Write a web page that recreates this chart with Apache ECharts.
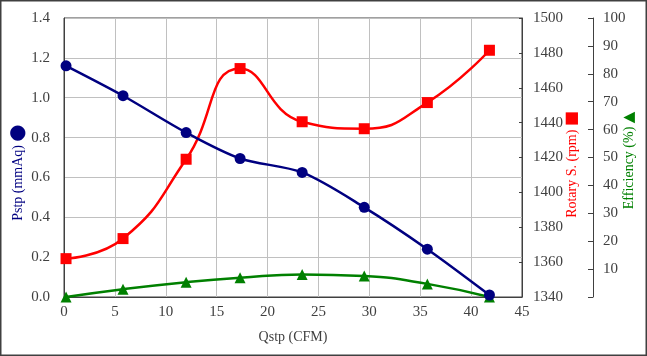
<!DOCTYPE html>
<html>
<head>
<meta charset="utf-8">
<script src="https://cdn.jsdelivr.net/npm/echarts@6/dist/echarts.min.js"></script>
<style>html,body{margin:0;padding:0;background:#fff}#c{width:647px;height:356px}</style>
</head>
<body>
<div id="c"></div>
<script>
const qstp = [0.2, 5.8, 12.0, 17.3, 23.4, 29.5, 35.7, 41.8];
const pstp = [1.16, 1.01, 0.825, 0.695, 0.625, 0.45, 0.24, 0.01];
const rpm = [1362, 1373.5, 1419, 1471, 1440.5, 1436.5, 1451.5, 1481.5];
const eff = [0, 2.8, 5.3, 6.9, 8.1, 7.5, 4.7, 0];
const xTicks = [0, 5, 10, 15, 20, 25, 30, 35, 40, 45];

const zip = (xs, ys) => xs.map((x, i) => [x, ys[i]]);
const font = '"Liberation Serif", "DejaVu Serif", serif';
const labelStyle = { color: '#404040', fontFamily: font, fontSize: 15 };

const chart = echarts.init(document.getElementById('c'));
chart.setOption({
  animation: false,
  grid: { left: 64, right: 125, top: 18, bottom: 59, containLabel: false, outerBoundsMode: 'none',
          show: true, borderColor: '#404040', borderWidth: 1 },
  graphic: [{
    type: 'rect', shape: { x: 0.75, y: 0.75, width: 645.5, height: 354.5 },
    style: { fill: 'none', stroke: '#404040', lineWidth: 1.5 }, silent: true
  }],
  xAxis: {
    type: 'value', min: 0, max: 45, interval: 5,
    name: 'Qstp (CFM)', nameLocation: 'middle', nameGap: 33, nameMoveOverlap: false,
    nameTextStyle: { color: '#404040', fontFamily: font, fontSize: 14 },
    axisLine: { lineStyle: { color: '#404040', width: 1 } },
    axisTick: { show: false },
    axisLabel: Object.assign({ margin: 8, formatter: v => xTicks.includes(v) ? String(v) : '' }, labelStyle),
    splitLine: { show: true, lineStyle: { color: '#c0c0c0', width: 1 } }
  },
  yAxis: [{
    type: 'value', min: 0, max: 1.4, interval: 0.2, position: 'left',
    name: '{t|Pstp (mmAq)} {s|●}', nameLocation: 'middle', nameGap: 36, nameRotate: 90, nameMoveOverlap: false,
    nameTextStyle: { padding: [0, 30, 0, 0], rich: {
      t: { color: '#000080', fontFamily: font, fontSize: 14 },
      s: { color: '#000080', fontSize: 20, fontFamily: 'DejaVu Sans' } } },
    axisLine: { show: true, lineStyle: { color: '#404040', width: 1 } },
    axisTick: { show: false },
    axisLabel: Object.assign({ margin: 14, formatter: v => v.toFixed(1) }, labelStyle),
    splitLine: { show: true, lineStyle: { color: '#c0c0c0', width: 1 } }
  }, {
    type: 'value', min: 1340, max: 1500, interval: 20, position: 'right',
    name: '{t|Rotary S. (rpm)} {s|■}', nameLocation: 'middle', nameGap: 42, nameRotate: 90, nameMoveOverlap: false,
    nameTextStyle: { padding: [0, 14, 0, 0], rich: {
      t: { color: '#ff0000', fontFamily: font, fontSize: 14 },
      s: { color: '#ff0000', fontSize: 16, fontFamily: 'DejaVu Sans' } } },
    axisLine: { show: true, lineStyle: { color: '#404040', width: 1 } },
    axisTick: { show: true, inside: true, length: 3, lineStyle: { color: '#404040' } },
    axisLabel: Object.assign({ margin: 11, formatter: v => String(v) }, labelStyle),
    splitLine: { show: false }
  }, {
    type: 'value', min: 0, max: 100, interval: 10, position: 'right', offset: 71,
    name: '{t|Efficiency (%)} {s|▲}', nameLocation: 'middle', nameGap: 29, nameRotate: 90, nameMoveOverlap: false,
    nameTextStyle: { padding: [0, 6, 0, 0], rich: {
      t: { color: '#008000', fontFamily: font, fontSize: 14 },
      s: { color: '#008000', fontSize: 15, fontFamily: 'DejaVu Sans' } } },
    axisLine: { show: true, lineStyle: { color: '#404040', width: 1 } },
    axisTick: { show: true, inside: true, length: 5, lineStyle: { color: '#404040' } },
    axisLabel: Object.assign({ margin: 10, formatter: v => v === 0 ? '' : String(v) }, labelStyle),
    splitLine: { show: false }
  }],
  series: [{
    name: 'Pstp', type: 'line', yAxisIndex: 0, data: zip(qstp, pstp), smooth: 0.3,
    symbol: 'circle', symbolSize: 11,
    lineStyle: { color: '#000080', width: 2.5 }, itemStyle: { color: '#000080' }, z: 5
  }, {
    name: 'Rotary', type: 'line', yAxisIndex: 1, data: zip(qstp, rpm), smooth: 0.5,
    symbol: 'rect', symbolSize: 11,
    lineStyle: { color: '#ff0000', width: 2.5 }, itemStyle: { color: '#ff0000' }, z: 4
  }, {
    name: 'Efficiency', type: 'line', yAxisIndex: 2, data: zip(qstp, eff), smooth: 0.5,
    symbol: 'triangle', symbolSize: 11,
    lineStyle: { color: '#008000', width: 2.5 }, itemStyle: { color: '#008000' }, z: 3
  }]
});
</script>
</body>
</html>
